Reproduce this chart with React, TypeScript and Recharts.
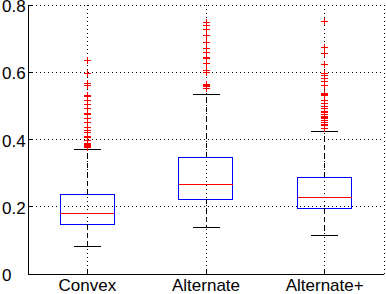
import React from 'react';
import { ComposedChart, XAxis, YAxis, CartesianGrid, Bar, Line, Scatter } from 'recharts';

const categories = ['Convex', 'Alternate', 'Alternate+'];
const positions = [1, 2, 3];
const lowerWhisker = [0.081, 0.139, 0.115];
const q1 = [0.148, 0.222, 0.196];
const median = [0.181, 0.265, 0.228];
const q3 = [0.236, 0.347, 0.288];
const upperWhisker = [0.37, 0.534, 0.424];

const outliersConvex = [
  0.636, 0.595, 0.567, 0.56, 0.53, 0.527, 0.515, 0.503, 0.491, 0.478, 0.475, 0.463, 0.45,
  0.436, 0.426, 0.42, 0.41, 0.405, 0.398, 0.389, 0.385, 0.381, 0.378, 0.375,
];
const outliersAlternate = [
  0.748, 0.738, 0.726, 0.709, 0.689, 0.671, 0.659, 0.643, 0.64, 0.626, 0.604, 0.6, 0.564,
  0.561, 0.557, 0.552,
];
const outliersAlternatePlus = [
  0.751, 0.674, 0.656, 0.624, 0.595, 0.589, 0.582, 0.572, 0.56, 0.537, 0.534, 0.53, 0.517,
  0.506, 0.497, 0.491, 0.483, 0.48, 0.475, 0.468, 0.465, 0.461, 0.456, 0.451, 0.446, 0.441,
  0.433,
];
const outliers = [outliersConvex, outliersAlternate, outliersAlternatePlus];

const yTicks = [0, 0.2, 0.4, 0.6, 0.8];
const xDomain = [0.5, 3.5];
const yDomain = [0, 0.8];

const FONT = '"Liberation Sans", Arial, Helvetica, sans-serif';

const boxData = positions.map((x, i) => ({ x, box: [q1[i], q3[i]] }));
const whiskerData: { x: number; y: number | null }[] = [];
positions.forEach((x, i) => {
  whiskerData.push({ x, y: q3[i] }, { x, y: upperWhisker[i] }, { x, y: null });
  whiskerData.push({ x, y: q1[i] }, { x, y: lowerWhisker[i] }, { x, y: null });
});
const medianData = positions.map((x, i) => ({ x, y: median[i] }));
const capData = positions.flatMap((x, i) => [
  { x, y: upperWhisker[i] },
  { x, y: lowerWhisker[i] },
]);
const outlierData = positions.flatMap((x, i) => outliers[i].map((y) => ({ x, y })));

const fmtY = (v: number) => (v === 0 ? '0' : v.toFixed(1));

const BottomTick = (props: any) => {
  const { x, y, payload } = props;
  const label = categories[positions.indexOf(payload.value)] ?? '';
  return (
    <g>
      <line x1={x} x2={x} y1={y} y2={y - 4} stroke="#000" />
      <text x={x} y={y + 17} textAnchor="middle" fontSize={17} fontFamily={FONT} fill="#000">
        {label}
      </text>
    </g>
  );
};

const TopTick = (props: any) => {
  const { x, y } = props;
  return <line x1={x} x2={x} y1={y} y2={y + 4} stroke="#000" />;
};

const LeftTick = (props: any) => {
  const { x, y, payload } = props;
  return (
    <g>
      <line x1={x} x2={x + 4} y1={y} y2={y} stroke="#000" />
      <text x={x - 26} y={y} dy="0.42em" textAnchor="start" fontSize={17} fontFamily={FONT} fill="#000">
        {fmtY(payload.value)}
      </text>
    </g>
  );
};

const RightTick = (props: any) => {
  const { x, y } = props;
  return <line x1={x} x2={x - 4} y1={y} y2={y} stroke="#000" />;
};

const MedianShape = (props: any) => {
  const { cx, cy } = props;
  return <line x1={cx - 27} x2={cx + 27} y1={cy} y2={cy} stroke="#ff0000" strokeWidth={1} />;
};

const CapShape = (props: any) => {
  const { cx, cy } = props;
  return <line x1={cx - 13.5} x2={cx + 13.5} y1={cy} y2={cy} stroke="#000" strokeWidth={1} />;
};

const PlusShape = (props: any) => {
  const { cx, cy } = props;
  return (
    <g stroke="#ff0000" strokeWidth={1}>
      <line x1={cx - 3.5} x2={cx + 3.5} y1={cy} y2={cy} />
      <line x1={cx} x2={cx} y1={cy - 3.5} y2={cy + 3.5} />
    </g>
  );
};

export default function App() {
  return (
    <div
      style={{
        position: 'absolute',
        left: 0,
        top: 0,
        width: 386,
        height: 294,
        background: '#fff',
        fontFamily: FONT,
        shapeRendering: 'crispEdges',
      }}
    >
      <ComposedChart
        width={386}
        height={294}
        data={boxData}
        margin={{ top: 5, right: 2, bottom: 0, left: 0 }}
      >
        <CartesianGrid stroke="#000" strokeDasharray="1 3" />
        <XAxis
          dataKey="x"
          type="number"
          domain={xDomain}
          ticks={positions}
          interval={0}
          height={20}
          tickSize={0}
          tickMargin={0}
          tickLine={false}
          axisLine={{ stroke: '#000' }}
          tick={<BottomTick />}
          allowDataOverflow
        />
        <XAxis
          xAxisId="top"
          orientation="top"
          dataKey="x"
          type="number"
          domain={xDomain}
          ticks={positions}
          interval={0}
          height={0}
          tickSize={0}
          tickMargin={0}
          tickLine={false}
          axisLine={{ stroke: '#000' }}
          tick={<TopTick />}
          allowDataOverflow
        />
        <YAxis
          type="number"
          domain={yDomain}
          ticks={yTicks}
          interval={0}
          width={28}
          tickSize={0}
          tickMargin={0}
          tickLine={false}
          axisLine={{ stroke: '#000' }}
          tick={<LeftTick />}
          allowDataOverflow
        />
        <YAxis
          yAxisId="right"
          orientation="right"
          type="number"
          domain={yDomain}
          ticks={yTicks}
          interval={0}
          width={0}
          tickSize={0}
          tickMargin={0}
          tickLine={false}
          axisLine={{ stroke: '#000' }}
          tick={<RightTick />}
          allowDataOverflow
        />
        <Bar dataKey="box" barSize={54} fill="none" stroke="#0000ff" strokeWidth={1} isAnimationActive={false} />
        <Line
          data={whiskerData}
          dataKey="y"
          type="linear"
          stroke="#000"
          strokeWidth={1}
          strokeDasharray="5 4"
          dot={false}
          activeDot={false}
          connectNulls={false}
          isAnimationActive={false}
        />
        <Scatter data={medianData} dataKey="y" shape={<MedianShape />} isAnimationActive={false} />
        <Scatter data={capData} dataKey="y" shape={<CapShape />} isAnimationActive={false} />
        <Scatter data={outlierData} dataKey="y" shape={<PlusShape />} isAnimationActive={false} />
      </ComposedChart>
    </div>
  );
}
